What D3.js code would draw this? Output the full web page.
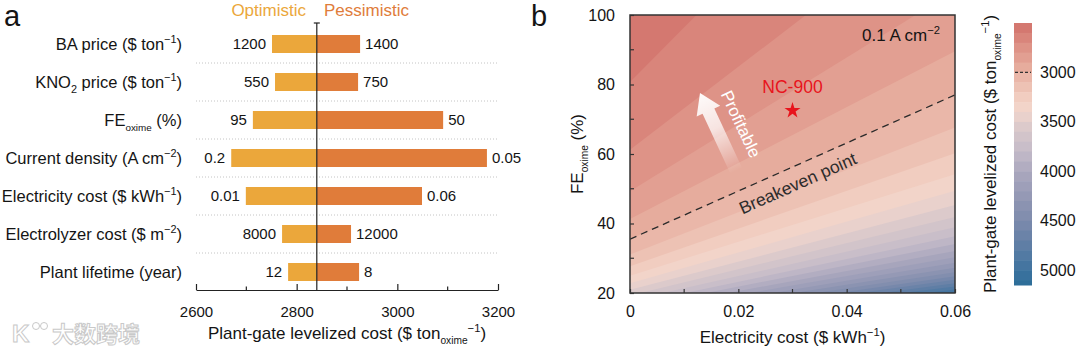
<!DOCTYPE html>
<html>
<head>
<meta charset="utf-8">
<script src="https://cdn.jsdelivr.net/npm/d3@7"></script>
<style>
  body { margin: 0; background: #fff; }
  svg { display: block; font-family: "Liberation Sans", Arial, sans-serif; }
</style>
</head>
<body>
<div id="chart"></div>
<script>
const width = 1080, height = 349;

// ---- panel a: tornado ----
const factorLabels = [
  [["BA price ($ ton"], ["−1", "sup"], [")"]],
  [["KNO"], ["2", "sub"], [" price ($ ton"], ["−1", "sup"], [")"]],
  [["FE"], ["oxime", "sub"], [" (%)"]],
  [["Current density (A cm"], ["−2", "sup"], [")"]],
  [["Electricity cost ($ kWh"], ["−1", "sup"], [")"]],
  [["Electrolyzer cost ($ m"], ["−2", "sup"], [")"]],
  [["Plant lifetime (year)"]]
];
const optimisticCost = [2751, 2757, 2713, 2670, 2699, 2771, 2783];
const pessimisticCost = [2926, 2922, 3091, 3178, 3049, 2908, 2924];
const optimisticText = ["1200", "550", "95", "0.2", "0.01", "8000", "12"];
const pessimisticText = ["1400", "750", "50", "0.05", "0.06", "12000", "8"];
const baseCost = 2840;
const costTicks = [2600, 2800, 3000, 3200];
const costMinor = [2700, 2900, 3100];

// ---- panel b: contour map ----
// each cost level is a straight line, given by its FE (%) at 0 and at 0.06 $/kWh
const levels    = [2600, 2700, 2800, 2900, 3000, 3100, 3200, 3300, 3400, 3500, 3600, 3700, 3800,
                   3900, 4000, 4100, 4200, 4300, 4400, 4500, 4600, 4700, 4800, 4900, 5000, 5100];
const feAtZero  = [80.7, 61.2, 49.3, 41.3, 35.5, 31.1, 27.7, 25.0, 22.8, 20.9, 19.3, 17.9, 16.7,
                   15.7, 14.8, 14.0, 13.2, 12.6, 12.0, 11.5, 11.0, 10.5, 10.1, 9.7, 9.3, 9.0];
const feAtMax   = [175.2, 132.9, 107.0, 89.6, 77.0, 67.6, 60.2, 54.2, 49.4, 45.3, 41.9, 38.9, 36.3,
                   34.1, 32.1, 30.3, 28.7, 27.3, 26.0, 24.8, 23.8, 22.8, 21.9, 21.0, 20.3, 19.5];
const breakevenLevel = 3000;
const ncPoint = { name: "NC-900", elec: 0.030, fe: 72.5 };
const elecTicks = [0, 0.02, 0.04, 0.06];
const elecMinor = [0.01, 0.03, 0.05];
const feTicks = [20, 40, 60, 80, 100];
const feMinor = [30, 50, 70, 90];
const cbarDomain = [2500, 5150];
const cbarTicks = [3000, 3500, 4000, 4500, 5000];

const optColor = "#eba73b", pesColor = "#e07c3a", ink = "#141414";
const color = d3.scaleLinear()
  .domain([2500, 2750, 3000, 3250, 3380, 3550, 3800, 4000, 4250, 4500, 4750, 5000, 5150])
  .range(["#d2716a", "#de9387", "#e8b2a3", "#f1cdc0", "#f2d6cc", "#dccacb", "#c4bbc8",
          "#aca8be", "#9599b5", "#7d8bac", "#5f7ea5", "#3f739f", "#2a6d98"]);

const svg = d3.select("#chart").append("svg")
  .attr("width", width)
  .attr("height", height);

// text with super/subscripts
function richText(sel, parts, size) {
  let shift = 0;
  parts.forEach(p => {
    const kind = p[1] || "";
    const target = kind === "sup" ? -0.42 : kind === "sub" ? 0.32 : 0;
    const ts = sel.append("tspan").text(p[0]);
    if (target !== shift) ts.attr("dy", (target - shift) * size);
    if (kind) ts.attr("font-size", size * (p[0].length > 2 ? 0.6 : 0.66));
    shift = target;
  });
  return sel;
}

// ================= panel a =================
const gA = svg.append("g");
const x = d3.scaleLinear().domain([2600, 3200]).range([196, 498]);
const y = d3.scalePoint().domain(d3.range(factorLabels.length)).range([44, 272]);
const barH = 18;

gA.append("text").attr("x", 4).attr("y", 26).attr("font-size", 29).attr("fill", ink).text("a");

gA.append("text").attr("x", 306).attr("y", 16).attr("text-anchor", "end")
  .attr("font-size", 17).attr("fill", optColor).text("Optimistic");
gA.append("text").attr("x", 324).attr("y", 16)
  .attr("font-size", 17).attr("fill", pesColor).text("Pessimistic");

// dotted separators
gA.selectAll(".sep").data(d3.range(factorLabels.length - 1)).join("line")
  .attr("x1", x.range()[0]).attr("x2", x.range()[1])
  .attr("y1", i => (y(i) + y(i + 1)) / 2).attr("y2", i => (y(i) + y(i + 1)) / 2)
  .attr("stroke", "#c4c4c4").attr("stroke-width", 1).attr("stroke-dasharray", "1,2");

gA.selectAll(".opt").data(optimisticCost).join("rect")
  .attr("x", d => x(d)).attr("width", d => x(baseCost) - x(d))
  .attr("y", (d, i) => y(i) - barH / 2).attr("height", barH)
  .attr("fill", optColor);
gA.selectAll(".pes").data(pessimisticCost).join("rect")
  .attr("x", x(baseCost)).attr("width", d => x(d) - x(baseCost))
  .attr("y", (d, i) => y(i) - barH / 2).attr("height", barH)
  .attr("fill", pesColor);

gA.selectAll(".optTxt").data(optimisticCost).join("text")
  .attr("x", d => x(d) - 6).attr("y", (d, i) => y(i)).attr("dy", "0.35em")
  .attr("text-anchor", "end").attr("font-size", 15).attr("fill", ink)
  .text((d, i) => optimisticText[i]);
gA.selectAll(".pesTxt").data(pessimisticCost).join("text")
  .attr("x", d => x(d) + 5).attr("y", (d, i) => y(i)).attr("dy", "0.35em")
  .attr("font-size", 15).attr("fill", ink)
  .text((d, i) => pessimisticText[i]);

factorLabels.forEach((parts, i) => {
  const t = gA.append("text").attr("x", 182).attr("y", y(i)).attr("dy", "0.35em")
    .attr("text-anchor", "end").attr("font-size", 16.5).attr("fill", ink);
  richText(t, parts, 16.5);
});

// x axis
const axA = gA.append("g").attr("transform", "translate(0,290)")
  .call(d3.axisBottom(x).tickValues(costTicks).tickSize(-6).tickSizeOuter(0).tickPadding(16)
    .tickFormat(d3.format("d")));
axA.attr("font-family", null).attr("font-size", 15);
axA.selectAll("text").attr("fill", ink);
axA.selectAll("line, path").attr("stroke", "#222").attr("stroke-width", 1.2);
gA.selectAll(".minorA").data(costMinor).join("line")
  .attr("x1", d => x(d)).attr("x2", d => x(d)).attr("y1", 290).attr("y2", 286.5)
  .attr("stroke", "#222").attr("stroke-width", 1.2);

// baseline
gA.append("line").attr("x1", x(baseCost)).attr("x2", x(baseCost)).attr("y1", 23).attr("y2", 290)
  .attr("stroke", "#222").attr("stroke-width", 1.2);
gA.append("line").attr("x1", x(baseCost) - 3).attr("x2", x(baseCost) + 3).attr("y1", 23).attr("y2", 23)
  .attr("stroke", "#222").attr("stroke-width", 1.2);

const titleA = gA.append("text").attr("x", (x.range()[0] + x.range()[1]) / 2).attr("y", 339)
  .attr("text-anchor", "middle").attr("font-size", 17).attr("fill", ink);
richText(titleA, [["Plant-gate levelized cost ($ ton"], ["oxime", "sub"], ["−1", "sup"], [")"]], 17);

// watermark
const wm = svg.append("g").attr("fill", "#fff").attr("stroke", "#c9c9c9").attr("stroke-width", 1);
wm.append("text").attr("x", 12).attr("y", 342).attr("font-size", 24).attr("font-weight", "bold").text("K");
wm.append("circle").attr("cx", 36).attr("cy", 326).attr("r", 3.5);
wm.append("circle").attr("cx", 44).attr("cy", 326).attr("r", 3.5);
wm.append("text").attr("x", 52).attr("y", 342).attr("font-size", 22).attr("font-weight", "bold")
  .attr("font-family", "'Noto Sans CJK SC', sans-serif").text("大数跨境");

// ================= panel b =================
const gB = svg.append("g");
const ex = d3.scaleLinear().domain([0, 0.06]).range([630, 955]);
const fy = d3.scaleLinear().domain([20, 100]).range([293, 15]);
const [px0, px1] = ex.range(), [py1, py0] = fy.range();

gB.append("text").attr("x", 531).attr("y", 26).attr("font-size", 29).attr("fill", ink).text("b");

gB.append("clipPath").attr("id", "plotClip").append("rect")
  .attr("x", px0).attr("y", py0).attr("width", px1 - px0).attr("height", py1 - py0);
const field = gB.append("g").attr("clip-path", "url(#plotClip)");

const bandEdges = [cbarDomain[0]].concat(levels, [cbarDomain[1]]);
const bandColor = k => color((bandEdges[k] + bandEdges[k + 1]) / 2);

field.append("rect").attr("x", px0).attr("y", py0).attr("width", px1 - px0).attr("height", py1 - py0)
  .attr("fill", bandColor(0));
levels.forEach((lv, i) => {
  const pts = [[ex(0), fy(feAtZero[i])], [ex(0.06), fy(feAtMax[i])], [ex(0.06), fy(0)], [ex(0), fy(0)]];
  field.append("path").attr("d", d3.line()(pts) + "Z").attr("fill", bandColor(i + 1));
});

// breakeven dashed line
const bi = levels.indexOf(breakevenLevel);
field.append("line")
  .attr("x1", ex(0)).attr("y1", fy(feAtZero[bi]))
  .attr("x2", ex(0.06)).attr("y2", fy(feAtMax[bi]))
  .attr("stroke", "#2a2a2a").attr("stroke-width", 1.3).attr("stroke-dasharray", "7,5");

const ang = Math.atan2(fy(feAtMax[bi]) - fy(feAtZero[bi]), ex(0.06) - ex(0)) * 180 / Math.PI;
const tE = 0.0297, tF = feAtZero[bi] + (feAtMax[bi] - feAtZero[bi]) * tE / 0.06;
gB.append("text")
  .attr("transform", `translate(${ex(tE)},${fy(tF)}) rotate(${ang})`)
  .attr("y", 23).attr("text-anchor", "middle").attr("font-size", 17.5).attr("fill", "#2c2c2c")
  .text("Breakeven point");

// profitable arrow
const defs = svg.append("defs");
const grad = defs.append("linearGradient").attr("id", "arrowGrad")
  .attr("x1", 0).attr("y1", 0).attr("x2", 0).attr("y2", 1);
grad.append("stop").attr("offset", "0%").attr("stop-color", "#fff").attr("stop-opacity", 0.97);
grad.append("stop").attr("offset", "45%").attr("stop-color", "#fff").attr("stop-opacity", 0.75);
grad.append("stop").attr("offset", "100%").attr("stop-color", "#fff").attr("stop-opacity", 0);
gB.append("path")
  .attr("transform", "translate(700,93) rotate(-25)")
  .attr("d", "M0,0 L13,20 L6.5,20 L6.5,86 L-6.5,86 L-6.5,20 L-13,20 Z")
  .attr("fill", "url(#arrowGrad)");
gB.append("text")
  .attr("transform", "translate(741,124) rotate(65)")
  .attr("dy", "0.35em").attr("text-anchor", "middle").attr("font-size", 17).attr("fill", "#fff")
  .text("Profitable");

// NC-900 point
gB.append("path")
  .attr("transform", `translate(${ex(ncPoint.elec)},${fy(ncPoint.fe)})`)
  .attr("d", d3.symbol(d3.symbolStar, 80)())
  .attr("fill", "#e8141c");
gB.append("text").attr("x", ex(ncPoint.elec)).attr("y", fy(ncPoint.fe) - 18)
  .attr("text-anchor", "middle").attr("font-size", 17.5).attr("fill", "#e8141c")
  .text(ncPoint.name);

const cd = gB.append("text").attr("x", 940).attr("y", 41).attr("text-anchor", "end")
  .attr("font-size", 17).attr("fill", ink);
richText(cd, [["0.1 A cm"], ["−2", "sup"]], 17);

// frame
gB.append("rect").attr("x", px0).attr("y", py0).attr("width", px1 - px0).attr("height", py1 - py0)
  .attr("fill", "none").attr("stroke", "#333").attr("stroke-width", 1.5);

// axes
const axX = gB.append("g").attr("transform", `translate(0,${py1})`)
  .call(d3.axisBottom(ex).tickValues(elecTicks).tickSize(-4).tickSizeOuter(0).tickPadding(13)
    .tickFormat(d => d === 0 ? "0" : d.toFixed(2)));
const axY = gB.append("g").attr("transform", `translate(${px0},0)`)
  .call(d3.axisLeft(fy).tickValues(feTicks).tickSize(-4).tickSizeOuter(0).tickPadding(15));
[axX, axY].forEach(a => {
  a.attr("font-family", null).attr("font-size", 16);
  a.select(".domain").remove();
  a.selectAll("text").attr("fill", ink);
  a.selectAll("line").attr("stroke", "#333").attr("stroke-width", 1.2);
});
gB.selectAll(".minorX").data(elecMinor).join("line")
  .attr("x1", d => ex(d)).attr("x2", d => ex(d)).attr("y1", py1).attr("y2", py1 - 4)
  .attr("stroke", "#333").attr("stroke-width", 1.2);
gB.selectAll(".minorY").data(feMinor).join("line")
  .attr("x1", px0).attr("x2", px0 + 4).attr("y1", d => fy(d)).attr("y2", d => fy(d))
  .attr("stroke", "#333").attr("stroke-width", 1.2);

const titleX = gB.append("text").attr("x", (px0 + px1) / 2).attr("y", 343)
  .attr("text-anchor", "middle").attr("font-size", 17).attr("fill", ink);
richText(titleX, [["Electricity cost ($ kWh"], ["−1", "sup"], [")"]], 17);

const titleY = gB.append("text").attr("transform", `translate(583,${(py0 + py1) / 2}) rotate(-90)`)
  .attr("text-anchor", "middle").attr("font-size", 17).attr("fill", ink);
richText(titleY, [["FE"], ["oxime", "sub"], [" (%)"]], 17);

// colorbar
const cy = d3.scaleLinear().domain(cbarDomain).range([23, 285]);
const cbx = 1014, cbw = 18;
gB.selectAll(".cb").data(d3.range(bandEdges.length - 1)).join("rect")
  .attr("x", cbx).attr("width", cbw)
  .attr("y", k => cy(bandEdges[k])).attr("height", k => cy(bandEdges[k + 1]) - cy(bandEdges[k]) + 0.5)
  .attr("fill", k => bandColor(k));
gB.append("line").attr("x1", cbx + 1).attr("x2", cbx + cbw - 1)
  .attr("y1", cy(breakevenLevel)).attr("y2", cy(breakevenLevel))
  .attr("stroke", "#333").attr("stroke-width", 1.3).attr("stroke-dasharray", "3,2");
gB.selectAll(".cbt").data(cbarTicks).join("text")
  .attr("x", cbx + cbw + 8).attr("y", d => cy(d)).attr("dy", "0.35em")
  .attr("font-size", 16).attr("fill", ink).text(d => d);

const titleC = gB.append("text").attr("transform", `translate(996,${(23 + 285) / 2}) rotate(-90)`)
  .attr("text-anchor", "middle").attr("font-size", 17).attr("fill", ink);
richText(titleC, [["Plant-gate levelized cost ($ ton"], ["oxime", "sub"], ["−1", "sup"], [")"]], 17);
</script>
</body>
</html>
